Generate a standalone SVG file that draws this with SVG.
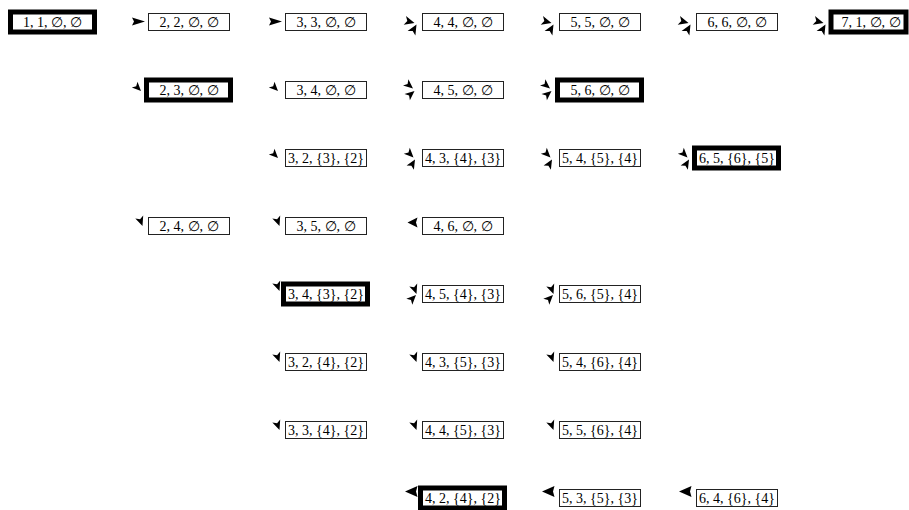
<svg xmlns="http://www.w3.org/2000/svg" xmlns:xlink="http://www.w3.org/1999/xlink" width="909" height="510" viewBox="0 0 909 510">
<style>
.b{fill:#fff;stroke:#222;stroke-width:1}
.k{fill:#fff;stroke:#000;stroke-width:5}
.t{font-family:"Liberation Serif","DejaVu Serif",serif;font-size:14px;fill:#000;text-anchor:middle}
.a{fill:#000;stroke:none}
</style>
<defs>
<polygon id="aR" class="a" points="-16,-4.5 -3,-0.5 -16,3.5 -14,-0.5"/>
<polygon id="aRt" class="a" points="-7.5,1 -16,-5.9 -14.7,-0.9 -18.3,2.8"/>
<polygon id="aU60" class="a" points="-5.5,2.5 -6.6,13.4 -9.3,9 -14.4,8.9"/>
<polygon id="aD45" class="a" points="-7,1 -16.2,-2.5 -11.8,-3.8 -10.5,-8.2"/>
<polygon id="aD40" class="a" points="-9,-1.5 -19,-4.4 -14.4,-6.1 -13.6,-10.8"/>
<polygon id="aU40" class="a" points="-7.5,1 -12.1,10.3 -12.9,5.6 -17.5,3.9"/>
<polygon id="aD45b" class="a" points="-8.5,-0.5 -18.2,-4.2 -13.5,-5.5 -12.2,-10.2"/>
<polygon id="aU60b" class="a" points="-7,1.5 -8.1,11.8 -10.6,7.7 -15.4,7.6"/>
<polygon id="aF" class="a" points="-5.5,0 -12.7,-7.5 -7.9,-6.7 -4.8,-10.4"/>
<polygon id="aU45" class="a" points="-6,1 -9.7,10.7 -11,6 -15.7,4.7"/>
<polygon id="aL" class="a" points="-14.5,-3.5 -4.5,-8.5 -6,-3.5 -4.5,1.5"/>
<polygon id="aL2" class="a" points="-17,-6.5 -4.5,-12 -6,-6.5 -4.5,-1"/>
</defs>
<g id="connectors">
<use xlink:href="#aR" x="148" y="22"/>
<use xlink:href="#aR" x="285" y="22"/>
<use xlink:href="#aRt" x="422" y="22"/><use xlink:href="#aU60" x="422" y="22"/>
<use xlink:href="#aRt" x="559" y="22"/><use xlink:href="#aU60" x="559" y="22"/>
<use xlink:href="#aRt" x="696" y="22"/><use xlink:href="#aU60" x="696" y="22"/>
<use xlink:href="#aRt" x="831" y="22"/><use xlink:href="#aU60" x="831" y="22"/>
<use xlink:href="#aD45" x="148" y="90"/>
<use xlink:href="#aD45" x="285" y="90"/>
<use xlink:href="#aD40" x="422" y="90"/><use xlink:href="#aU40" x="422" y="90"/>
<use xlink:href="#aD40" x="559" y="90"/><use xlink:href="#aU40" x="559" y="90"/>
<use xlink:href="#aD45" x="285" y="157"/>
<use xlink:href="#aD45b" x="422" y="158"/><use xlink:href="#aU60b" x="422" y="158"/>
<use xlink:href="#aD45b" x="559" y="158"/><use xlink:href="#aU60b" x="559" y="158"/>
<use xlink:href="#aD45b" x="696" y="158"/><use xlink:href="#aU60b" x="696" y="158"/>
<use xlink:href="#aF" x="148" y="226"/>
<use xlink:href="#aF" x="285" y="226"/>
<use xlink:href="#aL" x="422" y="226"/>
<use xlink:href="#aF" x="285" y="291"/>
<use xlink:href="#aF" x="422" y="294"/><use xlink:href="#aU45" x="422" y="294"/>
<use xlink:href="#aF" x="559" y="294"/><use xlink:href="#aU45" x="559" y="294"/>
<use xlink:href="#aF" x="285" y="362"/>
<use xlink:href="#aF" x="422" y="362"/>
<use xlink:href="#aF" x="559" y="362"/>
<use xlink:href="#aF" x="285" y="430"/>
<use xlink:href="#aF" x="422" y="430"/>
<use xlink:href="#aF" x="559" y="430"/>
<use xlink:href="#aL2" x="422" y="498"/>
<use xlink:href="#aL2" x="559" y="498"/>
<use xlink:href="#aL2" x="696" y="498"/>
</g>
<g id="n-1-1"><rect class="k" x="10.5" y="12" width="84" height="20"/><text class="t" x="52.5" y="27">1, 1, ∅, ∅</text></g>
<g id="n-2-2"><rect class="b" x="148.5" y="13.5" width="81" height="17"/><text class="t" x="189" y="27">2, 2, ∅, ∅</text></g>
<g id="n-3-3"><rect class="b" x="285.5" y="13.5" width="81" height="17"/><text class="t" x="326" y="27">3, 3, ∅, ∅</text></g>
<g id="n-4-4"><rect class="b" x="422.5" y="13.5" width="81" height="17"/><text class="t" x="463" y="27">4, 4, ∅, ∅</text></g>
<g id="n-5-5"><rect class="b" x="559.5" y="13.5" width="81" height="17"/><text class="t" x="600" y="27">5, 5, ∅, ∅</text></g>
<g id="n-6-6"><rect class="b" x="696.5" y="13.5" width="81" height="17"/><text class="t" x="737" y="27">6, 6, ∅, ∅</text></g>
<g id="n-7-1"><rect class="k" x="831" y="12" width="75" height="20"/><text class="t" x="871" y="27">7, 1, ∅, ∅</text></g>
<g id="n-2-3"><rect class="k" x="146.5" y="80" width="84" height="20"/><text class="t" x="189" y="95">2, 3, ∅, ∅</text></g>
<g id="n-3-4"><rect class="b" x="285.5" y="81.5" width="81" height="17"/><text class="t" x="326" y="95">3, 4, ∅, ∅</text></g>
<g id="n-4-5"><rect class="b" x="422.5" y="81.5" width="81" height="17"/><text class="t" x="463" y="95">4, 5, ∅, ∅</text></g>
<g id="n-5-6"><rect class="k" x="557.5" y="80" width="84" height="20"/><text class="t" x="600" y="95">5, 6, ∅, ∅</text></g>
<g id="n-3-2-3-2"><rect class="b" x="285.5" y="149.5" width="81" height="17"/><text class="t" x="326" y="163">3, 2, {3}, {2}</text></g>
<g id="n-4-3-4-3"><rect class="b" x="422.5" y="149.5" width="81" height="17"/><text class="t" x="463" y="163">4, 3, {4}, {3}</text></g>
<g id="n-5-4-5-4"><rect class="b" x="559.5" y="149.5" width="81" height="17"/><text class="t" x="600" y="163">5, 4, {5}, {4}</text></g>
<g id="n-6-5-6-5"><rect class="k" x="694.5" y="148" width="84" height="20"/><text class="t" x="737" y="163">6, 5, {6}, {5}</text></g>
<g id="n-2-4"><rect class="b" x="148.5" y="217.5" width="81" height="17"/><text class="t" x="189" y="231">2, 4, ∅, ∅</text></g>
<g id="n-3-5"><rect class="b" x="285.5" y="217.5" width="81" height="17"/><text class="t" x="326" y="231">3, 5, ∅, ∅</text></g>
<g id="n-4-6"><rect class="b" x="422.5" y="217.5" width="81" height="17"/><text class="t" x="463" y="231">4, 6, ∅, ∅</text></g>
<g id="n-3-4-3-2"><rect class="k" x="283.5" y="284" width="84" height="20"/><text class="t" x="326" y="299">3, 4, {3}, {2}</text></g>
<g id="n-4-5-4-3"><rect class="b" x="422.5" y="285.5" width="81" height="17"/><text class="t" x="463" y="299">4, 5, {4}, {3}</text></g>
<g id="n-5-6-5-4"><rect class="b" x="559.5" y="285.5" width="81" height="17"/><text class="t" x="600" y="299">5, 6, {5}, {4}</text></g>
<g id="n-3-2-4-2"><rect class="b" x="285.5" y="353.5" width="81" height="17"/><text class="t" x="326" y="367">3, 2, {4}, {2}</text></g>
<g id="n-4-3-5-3"><rect class="b" x="422.5" y="353.5" width="81" height="17"/><text class="t" x="463" y="367">4, 3, {5}, {3}</text></g>
<g id="n-5-4-6-4"><rect class="b" x="559.5" y="353.5" width="81" height="17"/><text class="t" x="600" y="367">5, 4, {6}, {4}</text></g>
<g id="n-3-3-4-2"><rect class="b" x="285.5" y="421.5" width="81" height="17"/><text class="t" x="326" y="435">3, 3, {4}, {2}</text></g>
<g id="n-4-4-5-3"><rect class="b" x="422.5" y="421.5" width="81" height="17"/><text class="t" x="463" y="435">4, 4, {5}, {3}</text></g>
<g id="n-5-5-6-4"><rect class="b" x="559.5" y="421.5" width="81" height="17"/><text class="t" x="600" y="435">5, 5, {6}, {4}</text></g>
<g id="n-4-2-4-2"><rect class="k" x="420.5" y="488" width="84" height="20"/><text class="t" x="463" y="503">4, 2, {4}, {2}</text></g>
<g id="n-5-3-5-3"><rect class="b" x="559.5" y="489.5" width="81" height="17"/><text class="t" x="600" y="503">5, 3, {5}, {3}</text></g>
<g id="n-6-4-6-4"><rect class="b" x="696.5" y="489.5" width="81" height="17"/><text class="t" x="737" y="503">6, 4, {6}, {4}</text></g>
</svg>
